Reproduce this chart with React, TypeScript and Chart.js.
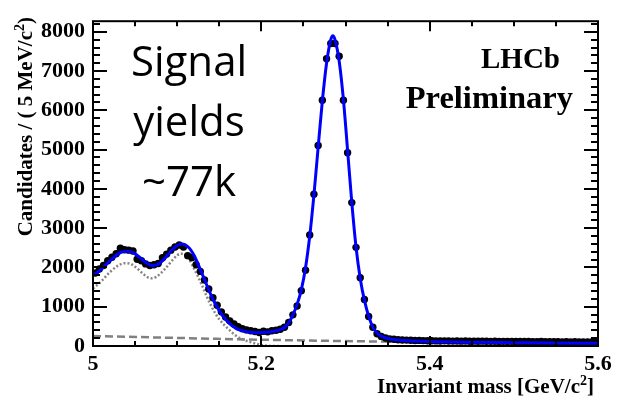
import { useEffect, useRef } from 'react';
import { Chart, registerables } from 'chart.js';

Chart.register(...registerables);

// Histogram binning: 5 MeV bins from 5.000 to 5.600 GeV
const BIN_LOW = 5.0;
const BIN_WIDTH = 0.005;

// Candidates per bin
const candidates = [
  1860, 1960, 2050, 2170, 2260, 2350, 2490, 2450, 2440, 2420,
  2210, 2170, 2090, 2050, 2070, 2100, 2250, 2340, 2440, 2520,
  2570, 2520, 2300, 2250, 2070, 1900, 1680, 1450, 1230, 1040,
  870, 740, 640, 560, 490, 440, 410, 390, 370, 345,
  375, 360, 390, 400, 425, 476, 600, 793, 1017, 1408,
  1931, 2829, 3865, 5104, 6258, 7315, 7703, 7703, 7380, 6258,
  4922, 3651, 2512, 1740, 1184, 750, 476, 311, 245, 205,
  180, 170, 160, 152, 150, 145, 140, 142, 138, 135,
  132, 130, 128, 131, 127, 125, 128, 124, 126, 122,
  124, 121, 123, 120, 118, 121, 117, 119, 116, 118,
  114, 116, 113, 115, 112, 110, 113, 109, 111, 108,
  110, 106, 108, 105, 107, 104, 103, 105, 102, 100,
];

// Total fit
const fitMass = [
  5.0, 5.005, 5.01, 5.015, 5.02, 5.025, 5.03, 5.035, 5.04, 5.045,
  5.05, 5.055, 5.06, 5.065, 5.07, 5.075, 5.08, 5.085, 5.09, 5.095,
  5.1, 5.105, 5.11, 5.115, 5.12, 5.125, 5.13, 5.135, 5.14, 5.145,
  5.15, 5.155, 5.16, 5.165, 5.17, 5.175, 5.18, 5.185, 5.19, 5.195,
  5.2, 5.205, 5.21, 5.215, 5.22, 5.2275, 5.2325, 5.2375, 5.2425, 5.2475,
  5.2525, 5.2575, 5.2625, 5.2675, 5.2725, 5.2775, 5.2825, 5.285, 5.2875, 5.2925,
  5.2975, 5.3025, 5.3075, 5.3125, 5.3175, 5.3225, 5.3275, 5.3325, 5.3375, 5.3425,
  5.35, 5.36, 5.37, 5.38, 5.4, 5.45, 5.5, 5.55, 5.6,
];
const fitTotal = [
  1800, 1870, 1960, 2060, 2165, 2265, 2345, 2395, 2412, 2395,
  2345, 2265, 2175, 2095, 2050, 2060, 2120, 2225, 2350, 2470,
  2560, 2595, 2570, 2480, 2310, 2080, 1820, 1560, 1310, 1090,
  900, 740, 620, 520, 450, 405, 375, 355, 345, 340,
  342, 348, 358, 375, 400, 470, 590, 790, 1060, 1430,
  1990, 2800, 3850, 5060, 6240, 7200, 7800, 7900, 7800, 7250,
  6280, 4980, 3650, 2520, 1720, 1160, 760, 480, 330, 250,
  190, 160, 140, 128, 112, 95, 85, 76, 70,
];

// Partially reconstructed background component
const partRecoMass = [
  5.0, 5.01, 5.02, 5.03, 5.035, 5.04, 5.045, 5.05, 5.06, 5.065,
  5.07, 5.075, 5.085, 5.095, 5.1, 5.105, 5.11, 5.115, 5.12, 5.125,
  5.13, 5.135, 5.14, 5.145, 5.15, 5.16, 5.17, 5.18, 5.19, 5.2,
  5.21, 5.22,
];
const partRecoYield = [
  1460, 1650, 1880, 2050, 2100, 2110, 2090, 2020, 1830, 1750,
  1725, 1760, 1950, 2200, 2310, 2350, 2310, 2180, 1970, 1760,
  1520, 1270, 1040, 840, 680, 450, 260, 150, 80, 25,
  3, 0,
];

// Combinatorial background component
const combMass = [5.0, 5.1, 5.2, 5.3, 5.4, 5.5, 5.6];
const combYield = [255, 205, 160, 125, 100, 80, 65];

const xTickValues = [5, 5.2, 5.4, 5.6];
const xTickLabels = ['5', '5.2', '5.4', '5.6'];
const yTickValues = [0, 1000, 2000, 3000, 4000, 5000, 6000, 7000, 8000];

const yieldLines = ['Signal', 'yields', '~77k'];

const SERIF = '"Liberation Serif", "Times New Roman", serif';

const pairs = (xs: number[], ys: number[]) => xs.map((x, i) => ({ x, y: ys[i] }));

// Frame with inward ticks on all four sides, plus the text labels
const framePlugin = {
  id: 'rootFrame',
  afterDraw(chart: any) {
    const { ctx, chartArea: a, scales } = chart;
    const xs = scales.x;
    const ys = scales.y;
    ctx.save();
    ctx.strokeStyle = '#000';
    ctx.lineWidth = 2;
    ctx.beginPath();
    for (let i = 0; i <= 41; i++) {
      const v = i * 200;
      if (v > ys.max) break;
      const p = Math.round(ys.getPixelForValue(v));
      const len = i % 5 === 0 ? 14 : 7;
      ctx.moveTo(a.left, p);
      ctx.lineTo(a.left + len, p);
      ctx.moveTo(a.right, p);
      ctx.lineTo(a.right - len, p);
    }
    for (let i = 0; i <= 12; i++) {
      const p = Math.round(xs.getPixelForValue(5 + i * 0.05));
      const len = i % 4 === 0 ? 10 : 5;
      ctx.moveTo(p, a.bottom);
      ctx.lineTo(p, a.bottom - len);
      ctx.moveTo(p, a.top);
      ctx.lineTo(p, a.top + len);
    }
    ctx.stroke();
    ctx.strokeRect(a.left, a.top, a.right - a.left, a.bottom - a.top);

    ctx.fillStyle = '#000';
    ctx.textBaseline = 'alphabetic';

    // x-axis title
    const xMain = 'Invariant mass [GeV/c';
    ctx.font = `bold 21px ${SERIF}`;
    const xw1 = ctx.measureText(xMain).width;
    const xw3 = ctx.measureText(']').width;
    ctx.font = `bold 14px ${SERIF}`;
    const xw2 = ctx.measureText('2').width;
    const sx = 594 - (xw1 + xw2 + xw3);
    ctx.textAlign = 'left';
    ctx.font = `bold 21px ${SERIF}`;
    ctx.fillText(xMain, sx, 393);
    ctx.font = `bold 14px ${SERIF}`;
    ctx.fillText('2', sx + xw1, 385);
    ctx.font = `bold 21px ${SERIF}`;
    ctx.fillText(']', sx + xw1 + xw2, 393);

    // y-axis title, reading upwards
    ctx.save();
    ctx.translate(32, 17);
    ctx.rotate(-Math.PI / 2);
    const yMain = 'Candidates / ( 5 MeV/c';
    ctx.font = `bold 21px ${SERIF}`;
    const yw1 = ctx.measureText(yMain).width;
    const yw3 = ctx.measureText(')').width;
    ctx.font = `bold 14px ${SERIF}`;
    const yw2 = ctx.measureText('2').width;
    const sy = -(yw1 + yw2 + yw3);
    ctx.font = `bold 21px ${SERIF}`;
    ctx.fillText(yMain, sy, 0);
    ctx.font = `bold 14px ${SERIF}`;
    ctx.fillText('2', sy + yw1, -8);
    ctx.font = `bold 21px ${SERIF}`;
    ctx.fillText(')', sy + yw1 + yw2, 0);
    ctx.restore();

    // experiment label
    ctx.textAlign = 'right';
    ctx.font = `bold 29px ${SERIF}`;
    ctx.fillText('LHCb', 560, 68);
    ctx.font = `bold 32.5px ${SERIF}`;
    ctx.fillText('Preliminary', 573, 108);

    // signal yield note
    ctx.textAlign = 'center';
    ctx.font = '42px "Open Sans", sans-serif';
    yieldLines.forEach((t, i) => ctx.fillText(t, 189, 76 + i * 60));
    ctx.restore();
  },
};

export default function App() {
  const canvasRef = useRef<HTMLCanvasElement>(null);

  useEffect(() => {
    const canvas = canvasRef.current;
    if (!canvas) return;
    const chart = new Chart(canvas, {
      type: 'scatter',
      data: {
        datasets: [
          {
            label: 'Fit',
            data: pairs(fitMass, fitTotal),
            showLine: true,
            borderColor: 'rgb(0,0,255)',
            borderWidth: 3,
            pointRadius: 0,
            cubicInterpolationMode: 'monotone',
            order: 0,
          },
          {
            label: 'Data',
            data: candidates.map((v, i) => ({ x: BIN_LOW + BIN_WIDTH * (i + 0.5), y: v })),
            showLine: false,
            pointRadius: 3.7,
            pointBackgroundColor: '#000',
            pointBorderWidth: 0,
            order: 1,
          },
          {
            label: 'Partially reconstructed',
            data: pairs(partRecoMass, partRecoYield),
            showLine: true,
            borderColor: '#858585',
            borderWidth: 2.5,
            borderDash: [2, 2],
            pointRadius: 0,
            cubicInterpolationMode: 'monotone',
            order: 2,
          },
          {
            label: 'Combinatorial',
            data: pairs(combMass, combYield),
            showLine: true,
            borderColor: '#808080',
            borderWidth: 2.5,
            borderDash: [8, 4],
            pointRadius: 0,
            cubicInterpolationMode: 'monotone',
            order: 3,
          },
        ],
      },
      options: {
        responsive: false,
        devicePixelRatio: 1,
        animation: false,
        layout: { padding: { left: 0, right: 19, top: 14, bottom: 0 } },
        plugins: { legend: { display: false }, tooltip: { enabled: false } },
        scales: {
          x: {
            type: 'linear',
            min: 5,
            max: 5.6,
            grid: { display: false, drawTicks: false },
            border: { display: false },
            afterBuildTicks: (s: any) => {
              s.ticks = xTickValues.map((value) => ({ value }));
            },
            afterFit: (s: any) => {
              s.height = 52;
            },
            ticks: {
              autoSkip: false,
              maxRotation: 0,
              padding: 5,
              color: '#000',
              font: { family: SERIF, size: 22, weight: 'bold' },
              callback: (_v: any, i: number) => xTickLabels[i],
            },
          },
          y: {
            type: 'linear',
            min: 0,
            max: 8270,
            grid: { display: false, drawTicks: false },
            border: { display: false },
            afterBuildTicks: (s: any) => {
              s.ticks = yTickValues.map((value) => ({ value }));
            },
            afterFit: (s: any) => {
              s.width = 93;
            },
            ticks: {
              padding: 8,
              color: '#000',
              font: { family: SERIF, size: 22, weight: 'bold' },
              callback: (v: any) => String(v),
            },
          },
        },
      },
      plugins: [framePlugin],
    } as any);
    return () => chart.destroy();
  }, []);

  return (
    <div style={{ position: 'absolute', left: 0, top: 0, width: 617, height: 398 }}>
      <canvas ref={canvasRef} width={617} height={398} style={{ display: 'block' }} />
    </div>
  );
}
